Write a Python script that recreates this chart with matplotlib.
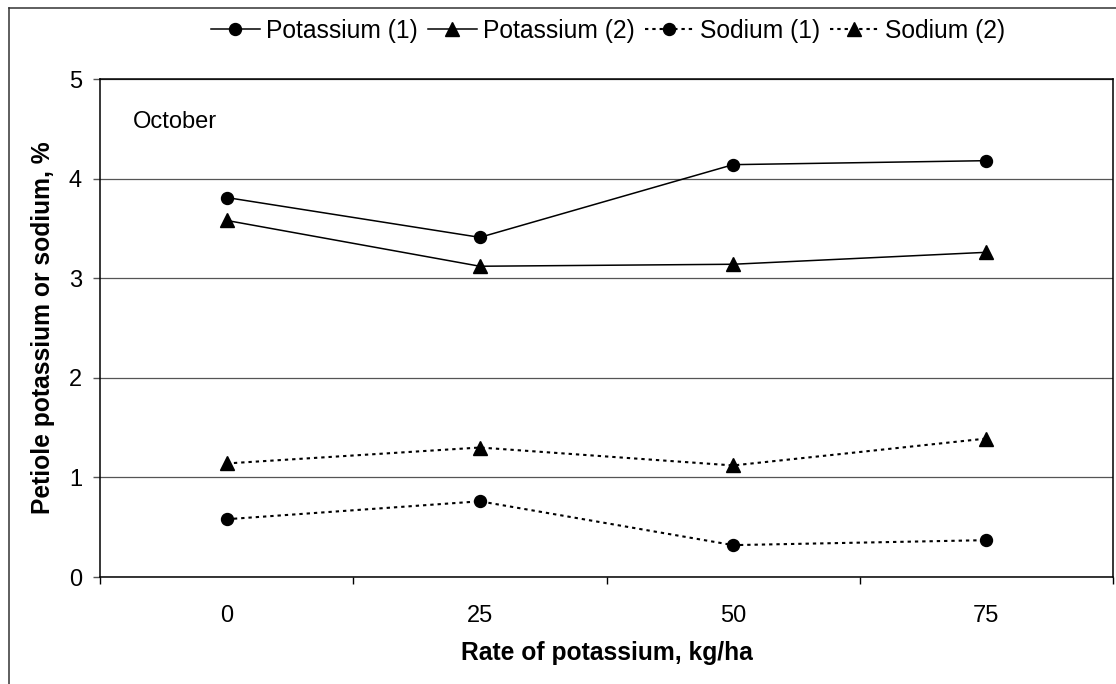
import numpy as np
import matplotlib
matplotlib.use("Agg")
import matplotlib.pyplot as plt
from matplotlib.lines import Line2D

plt.rcParams['font.family'] = ['Liberation Sans', 'DejaVu Sans']

# chart data
rates = ["0", "25", "50", "75"]
potassium_1 = [3.81, 3.41, 4.14, 4.18]
potassium_2 = [3.58, 3.12, 3.14, 3.26]
sodium_1 = [0.58, 0.76, 0.32, 0.37]
sodium_2 = [1.14, 1.30, 1.12, 1.39]
y_ticks = [0, 1, 2, 3, 4, 5]

W, H = 1116, 684
FS = 17
FS_BIG = 17.7


def fx(px):
    return px / W


def fy(py):
    return 1 - py / H


fig = plt.figure(figsize=(W / 100, H / 100), dpi=100)
ax = fig.add_axes([fx(100), fy(577), fx(1013), 498 / H])

x = np.arange(len(rates))
dots = (0, (1.6, 1.9))

ax.plot(x, potassium_1, color="black", lw=1.1, marker="o", ms=8.6,
        label="Potassium (1)")
ax.plot(x, potassium_2, color="black", lw=1.1, marker="^", ms=9.5,
        label="Potassium (2)")
ax.plot(x, sodium_1, color="black", lw=1.5, ls=dots, marker="o", ms=8.6,
        label="Sodium (1)")
ax.plot(x, sodium_2, color="black", lw=1.5, ls=dots, marker="^", ms=9.5,
        label="Sodium (2)")

ax.set_xlim(-0.5, len(rates) - 0.5)
ax.set_ylim(0, 5)

# category labels in the middle, tick marks on the boundaries
ax.set_xticks(x)
ax.set_xticklabels(rates)
ax.set_xticks(np.arange(len(rates) + 1) - 0.5, minor=True)
ax.tick_params(axis="x", which="major", length=0, pad=20, labelsize=FS)
ax.tick_params(axis="x", which="minor", length=5, width=1, direction="out")

ax.set_yticks(y_ticks)
ax.tick_params(axis="y", length=5, width=1, direction="out", pad=8,
               labelsize=FS, color="#555555")

ax.yaxis.grid(True, color="#555555", lw=0.9)
ax.set_axisbelow(True)
for s in ax.spines.values():
    s.set_color("black")
    s.set_linewidth(1.1)

ax.text(fx(133 - 100) / fx(1013), (577 - 122) / 498, "October",
        transform=ax.transAxes, fontsize=FS, va="center", ha="left")

ax.set_xlabel("Rate of potassium, kg/ha", fontsize=FS_BIG, fontweight="bold")
ax.xaxis.set_label_coords(0.5, -0.128)
ax.set_ylabel("Petiole potassium or sodium, %", fontsize=FS_BIG,
              fontweight="bold")
ax.yaxis.set_label_coords(-0.044, 0.5)

fig.legend(loc="center", bbox_to_anchor=(fx(608), fy(31)), ncol=4,
           frameon=False, fontsize=FS_BIG, handlelength=2.0,
           handletextpad=0.25, columnspacing=0.4, borderaxespad=0)

# outer chart border (only left and top edges fall inside the picture)
fig.add_artist(Line2D([fx(9), fx(9)], [fy(8), 0], transform=fig.transFigure,
                      color="#333333", lw=1.1))
fig.add_artist(Line2D([fx(9), 1], [fy(8), fy(8)], transform=fig.transFigure,
                      color="#333333", lw=1.1))

fig.savefig("out.png", dpi=100)
